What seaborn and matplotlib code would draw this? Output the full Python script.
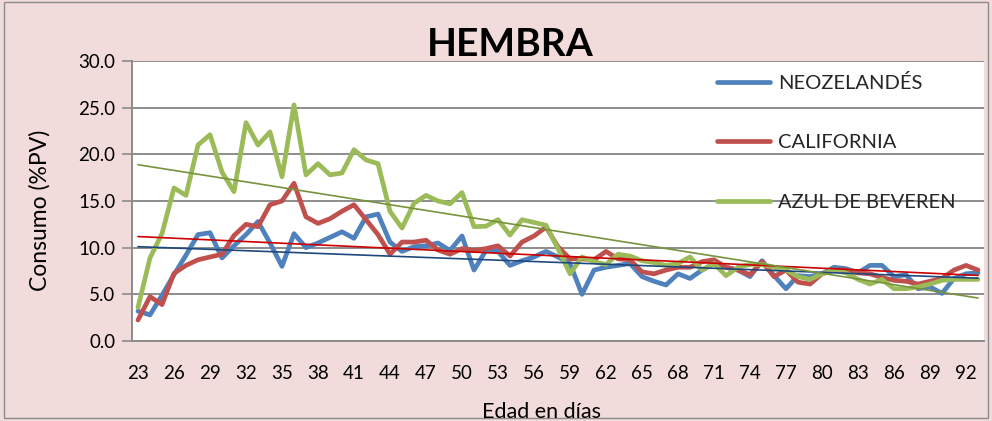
import numpy as np
import pandas as pd
import matplotlib
matplotlib.use("Agg")
import matplotlib.pyplot as plt
import seaborn as sns
from matplotlib.patches import Rectangle

dias = list(range(23, 94))

neozelandes = [3.2, 2.8, 4.9, 7.1, 9.2, 11.4, 11.6, 8.9, 10.2, 11.4,
               12.8, 10.5, 8.0, 11.5, 10.0, 10.5, 11.1, 11.7, 11.0, 13.3,
               13.6, 10.6, 9.6, 10.1, 10.2, 10.5, 9.7, 11.25, 7.6, 9.7,
               9.6, 8.1, 8.6, 9.0, 9.6, 9.0, 8.3, 5.0, 7.6, 7.9,
               8.1, 8.3, 6.9, 6.4, 6.0, 7.2, 6.7, 7.6, 8.3, 7.9,
               7.6, 6.9, 8.6, 7.0, 5.6, 7.0, 6.9, 7.2, 7.9, 7.75,
               7.3, 8.1, 8.1, 6.9, 7.1, 5.6, 5.8, 5.1, 6.7, 7.2, 7.3]

california = [2.25, 4.75, 3.9, 7.25, 8.1, 8.7, 9.0, 9.3, 11.3, 12.5,
              12.25, 14.6, 15.0, 16.9, 13.3, 12.6, 13.1, 13.9, 14.6, 13.0,
              11.4, 9.3, 10.6, 10.6, 10.8, 9.75, 9.3, 9.9, 9.7, 9.9,
              10.2, 9.1, 10.6, 11.25, 12.2, 10.1, 8.8, 8.8, 8.7, 9.6,
              8.8, 8.7, 7.4, 7.2, 7.6, 7.9, 7.9, 8.5, 8.7, 7.9,
              7.6, 7.1, 8.5, 6.9, 7.6, 6.3, 6.1, 7.2, 7.6, 7.6,
              7.3, 7.2, 6.8, 6.5, 6.4, 6.1, 6.4, 6.7, 7.6, 8.1, 7.6]

azul_de_beveren = [3.6, 8.9, 11.5, 16.4, 15.6, 21.0, 22.1, 18.1, 16.0, 23.4,
                   21.0, 22.4, 17.6, 25.3, 17.8, 19.0, 17.8, 18.0, 20.5, 19.4,
                   19.0, 13.9, 12.1, 14.75, 15.6, 15.0, 14.7, 15.9, 12.25, 12.3,
                   13.0, 11.35, 13.0, 12.7, 12.4, 9.9, 7.2, 9.0, 8.5, 8.2,
                   9.3, 9.1, 8.6, 8.4, 8.1, 8.3, 9.0, 7.6, 8.3, 7.0,
                   7.9, 8.2, 8.2, 7.9, 7.6, 6.9, 6.6, 7.2, 7.6, 7.3,
                   6.6, 6.1, 6.6, 5.6, 5.6, 5.8, 6.1, 6.5, 6.6, 6.6, 6.6]

series_names = ["NEOZELANDÉS", "CALIFORNIA", "AZUL DE BEVEREN"]
series_colors = ["#4F81BD", "#C0504D", "#9BBB59"]
trend_colors = ["#1F497D", "#CC0000", "#77933C"]
yticks = [0, 5, 10, 15, 20, 25, 30]

pos = np.arange(len(dias))
frames = []
for name, vals in zip(series_names, [neozelandes, california, azul_de_beveren]):
    frames.append(pd.DataFrame({"pos": pos, "dia": dias, "valor": vals, "serie": name}))
df = pd.concat(frames, ignore_index=True)

sns.set_theme(style="white")
plt.rcParams["font.family"] = ["Lato", "DejaVu Sans"]

bg = "#F2DCDB"
fig = plt.figure(figsize=(9.92, 4.21), dpi=100, facecolor=bg)
ax = fig.add_axes([132 / 992, 1 - 341 / 421, 852 / 992, 280 / 421])
ax.set_facecolor("white")

ax.set_ylim(0, 30)
ax.set_xlim(-0.5, len(dias) - 0.5)
ax.set_yticks(yticks)
ax.yaxis.grid(True, color="#8C8C8C", linewidth=1.4)
ax.set_axisbelow(True)

sns.lineplot(data=df, x="pos", y="valor", hue="serie", hue_order=series_names,
             palette=series_colors, linewidth=3.4, ax=ax, legend=True,
             estimator=None, sort=False)

for name, c in zip(series_names, trend_colors):
    sub = df[df["serie"] == name]
    sns.regplot(data=sub, x="pos", y="valor", scatter=False, ci=None,
                truncate=True, ax=ax, line_kws={"color": c, "linewidth": 1.2, "zorder": 3})

ax.set_ylim(0, 30)
ax.set_xlim(-0.5, len(dias) - 0.5)
ax.set_xlabel("")
ax.set_ylabel("")

ax.set_xticks(pos[::3])
ax.set_xticklabels([str(d) for d in dias[::3]], fontsize=13.5)
ax.set_xticks(np.arange(-0.5, len(dias), 1), minor=True)
ax.set_yticklabels([f"{v:.1f}" for v in yticks], fontsize=13.5)
ax.tick_params(axis="x", which="major", length=0, pad=17, colors="black")
ax.tick_params(axis="x", which="minor", length=6, width=1.2, color="#8C8C8C", direction="out")
ax.tick_params(axis="y", which="major", length=7, width=1.2, color="#8C8C8C", pad=5, left=True)
for lab in ax.get_xticklabels() + ax.get_yticklabels():
    lab.set_color("black")

for s in ["top", "right"]:
    ax.spines[s].set_visible(False)
for s in ["left", "bottom"]:
    ax.spines[s].set_color("#8C8C8C")
    ax.spines[s].set_linewidth(1.4)

handles, labels = ax.get_legend_handles_labels()
hmap = dict(zip(labels, handles))
leg = ax.legend([hmap[n] for n in series_names], series_names,
                loc="upper left", bbox_to_anchor=(0.687, 0.955), frameon=False,
                fontsize=14.5, handlelength=2.6, handletextpad=0.4,
                labelspacing=2.12, borderpad=0, borderaxespad=0)
for h in leg.get_lines():
    h.set_linewidth(3.4)
    h.set_solid_capstyle("round")

fig.text(0.514, 1 - 56 / 421, "HEMBRA", fontsize=28, fontweight="bold",
         ha="center", va="baseline", color="black")
fig.text(40 / 992, 1 - 210 / 421, "Consumo (%PV)", fontsize=16.5, rotation=90,
         ha="center", va="center", color="black")
fig.text(541 / 992, 1 - 402 / 421, "Edad en días", fontsize=15.5,
         ha="center", va="top", color="black")

fig.patches.append(Rectangle((0.004, 0.006), 0.992, 0.99, transform=fig.transFigure,
                             fill=False, edgecolor="#8C8C8C", linewidth=1.0))

fig.savefig("out.png", dpi=100, facecolor=bg)
